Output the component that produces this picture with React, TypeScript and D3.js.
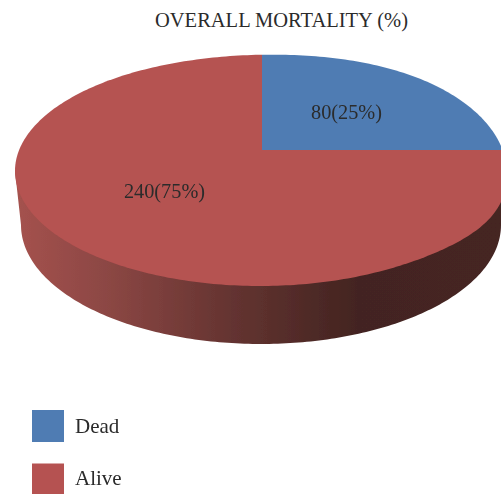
import React from "react";
import * as d3 from "d3";

const title = "OVERALL MORTALITY (%)";
const categories = ["Dead", "Alive"];
const values = [80, 240];
const percents = [25, 75];
const colors = ["#4f7cb3", "#b55251"];

const W = 501, H = 494;
const disc = { cx: 260, cy: 171, rx: 245, ry: 115 };
const base = { cx: 261, cy: 225, rx: 240, ry: 119 };
const apex = { x: 262, y: 150 };
// the reference's disc bulges slightly on its right: [angle in degrees, amplitude px, width in degrees]
const bulges = [
  [-50, 5, 34],
  [22, 5, 20],
];

function discPoint(deg: number): [number, number] {
  const t = (deg * Math.PI) / 180;
  const extra = d3.sum(bulges, ([d0, a, s]) => a * Math.exp(-(((deg - d0) / s) ** 2)));
  return [
    disc.cx + (disc.rx + extra) * Math.cos(t),
    disc.cy + (disc.ry + extra) * Math.sin(t),
  ];
}

const line = d3.line();
const discPath = line(d3.range(-180, 180).map(discPoint))! + "Z";

const pieGen = d3.pie<number>().sort(null);
const slices = pieGen(values);
const wedge = d3.arc<d3.PieArcDatum<number>>().innerRadius(0).outerRadius(900);

function sidePath() {
  const lower = d3.range(0, 181).map((i) => {
    const t = (Math.PI * i) / 180;
    return [base.cx + base.rx * Math.cos(t), base.cy + base.ry * Math.sin(t)] as [number, number];
  });
  return line([discPoint(0), ...lower, discPoint(180)])! + "Z";
}

const labelPos = [
  { x: 346.5, y: 119 },
  { x: 164.5, y: 198 },
];
const sideStops = [
  { o: 0, c: "#a5524e" },
  { o: 0.2, c: "#8a4643" },
  { o: 0.45, c: "#633330" },
  { o: 0.6, c: "#4f2a27" },
  { o: 0.7, c: "#432420" },
  { o: 1, c: "#452522" },
];
const font = "'Liberation Serif', serif";
const ink = "#2b2b2b";

export default function App() {
  return (
    <svg width={W} height={H} viewBox={`0 0 ${W} ${H}`} style={{ position: "absolute", left: 0, top: 0, background: "#fff" }}>
      <defs>
        <linearGradient id="side" gradientUnits="userSpaceOnUse" x1={disc.cx - disc.rx} x2={disc.cx + disc.rx} y1={0} y2={0}>
          {sideStops.map((s) => <stop key={s.o} offset={s.o} stopColor={s.c} />)}
        </linearGradient>
        <clipPath id="discClip"><path d={discPath} /></clipPath>
        <filter id="soft" x="-5%" y="-5%" width="110%" height="110%">
          <feGaussianBlur stdDeviation="0.5" />
        </filter>
      </defs>
      <text x={281.5} y={27} textAnchor="middle" fontFamily={font} fontSize={20.5} fill={ink}>{title}</text>
      <g filter="url(#soft)">
        <path d={sidePath()} fill="url(#side)" />
        <g clipPath="url(#discClip)">
          {slices.map((s, i) => (
            <path key={i} d={wedge(s)!} transform={`translate(${apex.x},${apex.y})`} fill={colors[i]} />
          ))}
        </g>
      </g>
      {slices.map((s, i) => (
        <text key={i} x={labelPos[i].x} y={labelPos[i].y} textAnchor="middle" fontFamily={font} fontSize={20.3} fill={ink}>
          {`${values[i]}(${percents[i]}%)`}
        </text>
      ))}
      {categories.map((c, i) => (
        <g key={c}>
          <rect x={32} y={410 + i * 53.5} width={32} height={i === 0 ? 32 : 30.5} fill={colors[i]} />
          <text x={75} y={433 + i * 51.5} fontFamily={font} fontSize={21} fill={ink}>{c}</text>
        </g>
      ))}
    </svg>
  );
}
